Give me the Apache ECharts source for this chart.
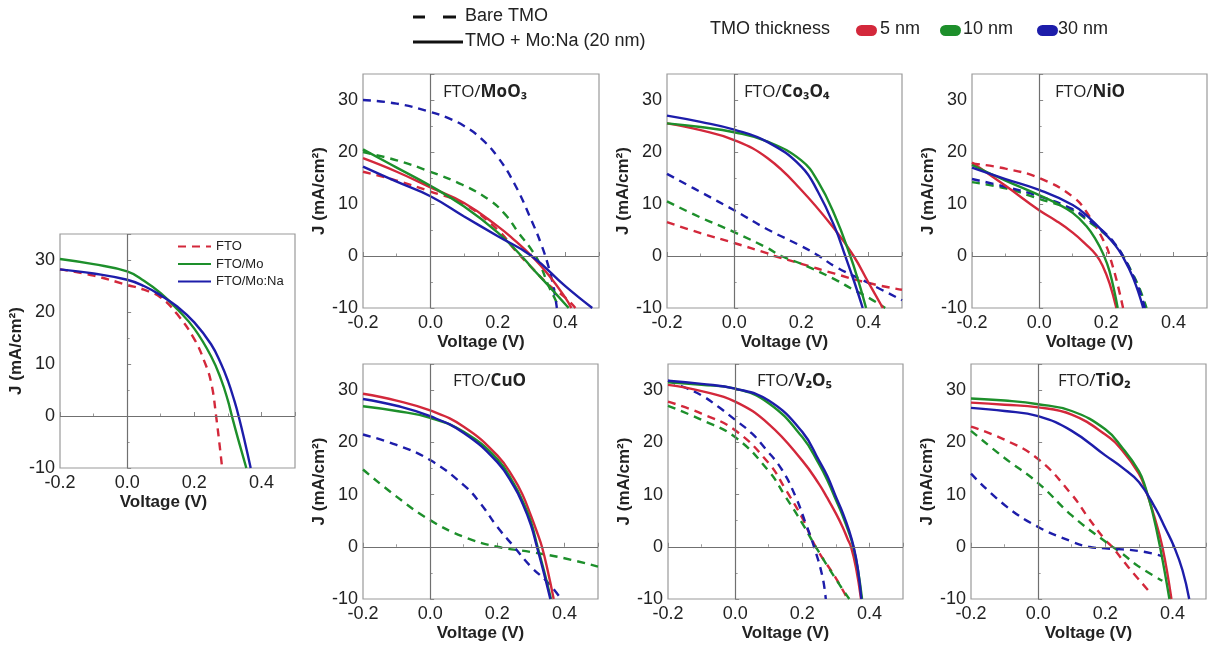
<!DOCTYPE html>
<html><head><meta charset="utf-8">
<script src="https://cdn.jsdelivr.net/npm/echarts@6/dist/echarts.min.js"></script>
<style>html,body{margin:0;padding:0;background:#fff}#c{width:1208px;height:648px}</style>
</head><body><div id="c"></div>
<script>
// ---------------- DATA (Voltage V, J mA/cm2) ----------------
// Reference panel
const ref_FTO     = [[-0.2,28.2],[-0.1,27],[0,25.2],[0.05,24.3],[0.1,22.8],[0.15,19.5],[0.2,14.8],[0.23,10.5],[0.25,6.5],[0.265,0],[0.283,-10]];
const ref_FTO_Mo  = [[-0.2,30.2],[-0.1,29.2],[0,27.8],[0.05,26],[0.1,23.6],[0.15,20.5],[0.2,16.8],[0.25,11.5],[0.28,7],[0.3,3],[0.312,0],[0.33,-4.3],[0.355,-10]];
const ref_FTO_MoNa= [[-0.2,28.2],[-0.1,27.4],[0,26.2],[0.05,25],[0.1,23.2],[0.15,21],[0.2,18],[0.25,13.8],[0.28,10],[0.3,6.8],[0.32,2.8],[0.332,0],[0.35,-4.8],[0.368,-10]];

// FTO/MoO3
const moo3_bare_5  = [[-0.2,16.2],[-0.1,14.5],[0,12.4],[0.1,10],[0.2,5],[0.253,1],[0.3,-2.2],[0.35,-5.5],[0.4,-8],[0.43,-10]];
const moo3_bare_10 = [[-0.2,20],[-0.1,18.4],[0,16.2],[0.095,13.7],[0.174,10.8],[0.223,7.9],[0.262,4.4],[0.302,1],[0.327,-1.9],[0.35,-5.7],[0.372,-8.6],[0.38,-10]];
const moo3_bare_30 = [[-0.2,30],[-0.1,29.3],[0,27.7],[0.05,26.6],[0.1,25],[0.15,22.6],[0.2,19],[0.25,13.8],[0.3,6.8],[0.33,2],[0.35,-2],[0.365,-6],[0.375,-10]];
const moo3_mona_5  = [[-0.2,18.8],[-0.1,16.2],[0,13.2],[0.1,10.2],[0.2,5.7],[0.25,3],[0.3,0],[0.35,-3.6],[0.4,-8],[0.418,-10]];
const moo3_mona_10 = [[-0.2,20.5],[-0.1,17],[0,13.5],[0.1,9.5],[0.2,4.5],[0.27,0],[0.3,-2.2],[0.35,-5.7],[0.41,-10]];
const moo3_mona_30 = [[-0.2,17.2],[-0.1,14.3],[0,11.5],[0.1,7.6],[0.2,3.8],[0.3,0],[0.4,-5.8],[0.48,-10]];

// FTO/Co3O4
const co_bare_5  = [[-0.2,6.5],[-0.1,4.4],[0,2.5],[0.1,0.5],[0.12,0],[0.2,-1.5],[0.3,-3.4],[0.4,-5.2],[0.5,-6.5]];
const co_bare_10 = [[-0.2,10.5],[-0.1,7.4],[0,4.6],[0.1,1.5],[0.14,0],[0.2,-1.5],[0.3,-4.5],[0.35,-6.3],[0.4,-8],[0.45,-10]];
const co_bare_30 = [[-0.2,15.8],[-0.1,12.3],[0,8.8],[0.1,5.1],[0.2,1.9],[0.253,0],[0.3,-2],[0.4,-5.2],[0.5,-8.5]];
const co_mona_5  = [[-0.2,25.5],[-0.1,24.2],[0,22.3],[0.1,18.8],[0.2,12.7],[0.3,5.1],[0.356,0],[0.4,-5.1],[0.443,-10]];
const co_mona_10 = [[-0.2,25.5],[-0.1,24.8],[0,23.8],[0.1,22],[0.2,18.4],[0.25,14.3],[0.3,7.8],[0.346,0],[0.37,-4.8],[0.393,-10]];
const co_mona_30 = [[-0.2,27],[-0.1,25.8],[0,24.3],[0.1,21.9],[0.2,17.2],[0.25,12.3],[0.3,5.5],[0.331,0],[0.358,-5],[0.383,-10]];

// FTO/NiO
const nio_bare_5  = [[-0.2,17.8],[-0.1,16.8],[0,15],[0.1,11.4],[0.15,7.6],[0.2,1.9],[0.21,0],[0.23,-4.5],[0.25,-10]];
const nio_bare_10 = [[-0.2,14.2],[-0.1,13],[0,11],[0.1,8.8],[0.15,6.5],[0.2,4],[0.225,2.3],[0.25,0],[0.28,-3.6],[0.3,-6.4],[0.32,-10]];
const nio_bare_30 = [[-0.2,14.8],[-0.1,13.3],[0,11.5],[0.1,9],[0.15,6.8],[0.2,4.2],[0.225,2.4],[0.25,0],[0.28,-3.8],[0.3,-6.8],[0.315,-10]];
const nio_mona_5  = [[-0.2,18],[-0.1,13.5],[0,8.8],[0.05,6.8],[0.1,4.5],[0.14,2.2],[0.17,0.2],[0.19,-2],[0.21,-5.3],[0.23,-10]];
const nio_mona_10 = [[-0.2,17.5],[-0.1,14.5],[0,11.7],[0.05,10.2],[0.1,8.3],[0.14,5.8],[0.17,3],[0.19,0.5],[0.21,-3],[0.234,-10]];
const nio_mona_30 = [[-0.2,17],[-0.1,14.8],[0,12.7],[0.1,9.8],[0.15,7.3],[0.2,4],[0.225,2.2],[0.248,0],[0.28,-4.2],[0.31,-10]];

// FTO/CuO
const cuo_bare_10 = [[-0.2,14.8],[-0.1,9.6],[0,5.1],[0.1,1.9],[0.2,0],[0.3,-1],[0.4,-2.2],[0.5,-3.8]];
const cuo_bare_30 = [[-0.2,21.5],[-0.1,19.5],[0,16.6],[0.1,11.8],[0.15,8.3],[0.2,3.8],[0.25,0],[0.3,-3.8],[0.35,-6.8],[0.39,-10]];
const cuo_mona_5  = [[-0.2,29.3],[-0.1,28],[0,26.1],[0.1,23],[0.2,17.5],[0.25,13],[0.275,10],[0.3,6],[0.32,2.5],[0.333,0],[0.35,-4.5],[0.368,-10]];
const cuo_mona_10 = [[-0.2,26.9],[-0.1,26],[0,24.7],[0.1,22],[0.2,16.8],[0.25,12],[0.275,8.8],[0.3,4.8],[0.32,0],[0.34,-4.8],[0.36,-10]];
const cuo_mona_30 = [[-0.2,28.3],[-0.1,27],[0,25],[0.1,21.8],[0.2,16.2],[0.25,11.5],[0.275,8.3],[0.3,4.2],[0.318,0],[0.338,-4.8],[0.358,-10]];

// FTO/V2O5
const v_bare_5  = [[-0.2,27.8],[-0.1,25.5],[0,22.3],[0.1,16],[0.15,11],[0.2,5.5],[0.24,0],[0.3,-6],[0.335,-10]];
const v_bare_10 = [[-0.2,27],[-0.1,24.3],[0,21],[0.1,14.5],[0.15,9.6],[0.2,4.5],[0.24,0],[0.3,-6.2],[0.34,-10]];
const v_bare_30 = [[-0.2,31.8],[-0.15,30.5],[-0.1,29],[-0.05,26.8],[0,24.3],[0.05,21.7],[0.09,18.8],[0.14,14.7],[0.18,9.6],[0.21,4.5],[0.235,0],[0.26,-5.7],[0.27,-10]];
const v_mona_5  = [[-0.2,31],[-0.1,29.8],[0,27.8],[0.1,23.5],[0.2,16.5],[0.25,12],[0.275,9.3],[0.3,6.4],[0.32,3.8],[0.335,1.5],[0.345,0],[0.36,-4],[0.375,-10]];
const v_mona_10 = [[-0.2,31.5],[-0.1,31],[0,30.3],[0.1,27.5],[0.2,21],[0.25,15.8],[0.275,12.7],[0.3,9],[0.32,6],[0.34,2.5],[0.352,0],[0.366,-4.5],[0.378,-10]];
const v_mona_30 = [[-0.2,31.8],[-0.1,31.2],[0,30.3],[0.1,28],[0.2,22],[0.25,16.5],[0.275,13.5],[0.3,9.6],[0.32,6.6],[0.34,3],[0.353,0],[0.365,-4],[0.376,-10]];

// FTO/TiO2
const ti_bare_5  = [[-0.2,23],[-0.1,20.5],[0,16.8],[0.1,10],[0.15,5.5],[0.2,1.3],[0.22,0],[0.27,-4],[0.33,-8.5]];
const ti_bare_10 = [[-0.2,22.2],[-0.1,17],[0,12.2],[0.1,6],[0.2,1],[0.25,-1.3],[0.3,-3.8],[0.37,-6.5]];
const ti_bare_30 = [[-0.2,14],[-0.1,8],[0,3.8],[0.1,1],[0.15,0],[0.2,-0.3],[0.3,-0.8],[0.37,-1.8]];
const ti_mona_5  = [[-0.2,27.6],[-0.1,27.2],[0,26.7],[0.1,25.3],[0.2,21.5],[0.25,18.5],[0.3,14],[0.32,11],[0.345,6],[0.37,0],[0.397,-10]];
const ti_mona_10 = [[-0.2,28.4],[-0.1,28],[0,27.3],[0.1,26],[0.2,22.5],[0.25,19],[0.3,14.5],[0.32,11.3],[0.34,6.8],[0.363,0],[0.391,-10]];
const ti_mona_30 = [[-0.2,26.6],[-0.1,26],[0,25],[0.1,22.2],[0.2,17.5],[0.25,15.2],[0.3,12.4],[0.35,7.3],[0.38,3.4],[0.405,0],[0.43,-4.5],[0.45,-10]];

// Axis ranges / labels
const xRange = [-0.2, 0.5], xStep = 0.2;
const yRange = [-10, 35], yStep = 10;
const yName = 'J (mA/cm²)', xName = 'Voltage (V)';
const topLegendLines = ['Bare TMO', 'TMO + Mo:Na (20 nm)'];
const thicknessTitle = 'TMO thickness';
const thicknessLabels = ['5 nm', '10 nm', '30 nm'];
const refNames = ['FTO', 'FTO/Mo', 'FTO/Mo:Na'];

// ---------------- STYLE / LAYOUT ----------------
const RED = '#d3283b', GREEN = '#1d8f2b', BLUE = '#1d1daa';
const tc = [RED, GREEN, BLUE];
const panels = [
  {box:[60,234,235,234], title:null,
   curves:[[refNames[0], ref_FTO, RED, true],[refNames[1], ref_FTO_Mo, GREEN, false],[refNames[2], ref_FTO_MoNa, BLUE, false]]},
  {box:[363,74,236,234], title:['FTO/','MoO₃'], tpos:[438,79],
   curves:[['b5',moo3_bare_5,RED,true],['b10',moo3_bare_10,GREEN,true],['b30',moo3_bare_30,BLUE,true],['m5',moo3_mona_5,RED,false],['m10',moo3_mona_10,GREEN,false],['m30',moo3_mona_30,BLUE,false]]},
  {box:[667,74,235,234], title:['FTO/','Co₃O₄'], tpos:[739,79],
   curves:[['b5',co_bare_5,RED,true],['b10',co_bare_10,GREEN,true],['b30',co_bare_30,BLUE,true],['m5',co_mona_5,RED,false],['m10',co_mona_10,GREEN,false],['m30',co_mona_30,BLUE,false]]},
  {box:[972,74,235,234], title:['FTO/','NiO'], tpos:[1050,79],
   curves:[['b5',nio_bare_5,RED,true],['b10',nio_bare_10,GREEN,true],['b30',nio_bare_30,BLUE,true],['m5',nio_mona_5,RED,false],['m10',nio_mona_10,GREEN,false],['m30',nio_mona_30,BLUE,false]]},
  {box:[363,364,235,235], title:['FTO/','CuO'], tpos:[448,368],
   curves:[['b10',cuo_bare_10,GREEN,true],['b30',cuo_bare_30,BLUE,true],['m5',cuo_mona_5,RED,false],['m10',cuo_mona_10,GREEN,false],['m30',cuo_mona_30,BLUE,false]]},
  {box:[668,364,235,235], title:['FTO/','V₂O₅'], tpos:[752,368],
   curves:[['b5',v_bare_5,RED,true],['b10',v_bare_10,GREEN,true],['b30',v_bare_30,BLUE,true],['m5',v_mona_5,RED,false],['m10',v_mona_10,GREEN,false],['m30',v_mona_30,BLUE,false]]},
  {box:[971,364,235,235], title:['FTO/','TiO₂'], tpos:[1053,368],
   curves:[['b5',ti_bare_5,RED,true],['b10',ti_bare_10,GREEN,true],['b30',ti_bare_30,BLUE,true],['m5',ti_mona_5,RED,false],['m10',ti_mona_10,GREEN,false],['m30',ti_mona_30,BLUE,false]]}
];

const FONT = 'Liberation Sans';
const grids = [], xAxes = [], yAxes = [], series = [], titles = [];
panels.forEach((p, i) => {
  grids.push({left:p.box[0], top:p.box[1], width:p.box[2], height:p.box[3], show:true,
    borderColor:'#9a9a9a', borderWidth:1.2, backgroundColor:'transparent'});
  xAxes.push({type:'value', gridIndex:i, min:xRange[0], max:xRange[1], interval:xStep,
    name:xName, nameLocation:'middle', nameGap:26,
    nameTextStyle:{fontFamily:FONT, fontWeight:'bold', fontSize:17, color:'#222', padding: i===0?[0,28,0,0]:0},
    axisLine:{show:false}, splitLine:{show:false},
    axisTick:{show:true, inside:true, length:4, lineStyle:{color:'#888'}},
    minorTick:{show:true, splitNumber:2, length:2.5, lineStyle:{color:'#999'}},
    axisLabel:{fontFamily:FONT, fontSize:18, color:'#222', margin:6, showMaxLabel:false,
      formatter:v => v.toFixed(1)}});
  yAxes.push({type:'value', gridIndex:i, min:yRange[0], max:yRange[1], interval:yStep,
    name:yName, nameLocation:'middle', nameGap:28, nameRotate:90,
    nameTextStyle:{fontFamily:FONT, fontWeight:'bold', fontSize:17, color:'#222'},
    axisLine:{show:false}, splitLine:{show:false},
    axisTick:{show:true, inside:true, length:4, lineStyle:{color:'#888'}},
    minorTick:{show:true, splitNumber:2, length:2.5, lineStyle:{color:'#999'}},
    axisLabel:{fontFamily:FONT, fontSize:18, color:'#222', margin:5, showMaxLabel:false}});
  p.curves.forEach((c, k) => {
    const s = {type:'line', name:c[0], xAxisIndex:i, yAxisIndex:i, data:c[1],
      symbol:'none', showSymbol:false, smooth:0.45, clip:true,
      z: c[3] ? 2 : 3,
      lineStyle:{color:c[2], width:2.4, type:c[3] ? [8,6] : 'solid'},
      itemStyle:{color:c[2]}};
    if (k === 0) {
      s.markLine = {silent:true, symbol:'none', label:{show:false}, animation:false,
        lineStyle:{color:'#707070', width:1.2, type:'solid'},
        data:[{xAxis:0},{yAxis:0}]};
    }
    series.push(s);
  });
  if (p.title) {
    titles.push({left:p.tpos[0], top:p.tpos[1], text:'{a|'+p.title[0]+'}{b|'+p.title[1]+'}',
      textStyle:{fontWeight:'normal', rich:{a:{fontFamily:'Open Sans', fontSize:17, fontWeight:'normal', color:'#222'},
                       b:{fontFamily:'Open Sans', fontSize:17, fontWeight:'bold', color:'#222'}}}});
  }
});

// top legend graphics
const g = [];
g.push({type:'line', shape:{x1:413,y1:17,x2:425,y2:17}, style:{stroke:'#111', lineWidth:3}});
g.push({type:'line', shape:{x1:443,y1:17,x2:456,y2:17}, style:{stroke:'#111', lineWidth:3}});
g.push({type:'text', left:465, top:7, style:{text:topLegendLines[0], font:'18px "Liberation Sans"', fill:'#222'}});
g.push({type:'line', shape:{x1:413,y1:42,x2:463,y2:42}, style:{stroke:'#111', lineWidth:3}});
g.push({type:'text', left:465, top:32, style:{text:topLegendLines[1], font:'18px "Liberation Sans"', fill:'#222'}});
g.push({type:'text', left:710, top:20, style:{text:thicknessTitle, font:'18px "Liberation Sans"', fill:'#222'}});
const pillX = [856, 940, 1037], textX = [880, 963, 1058];
thicknessLabels.forEach((t, k) => {
  g.push({type:'rect', shape:{x:pillX[k], y:25, width:21, height:11, r:5.5}, style:{fill:tc[k]}});
  g.push({type:'text', left:textX[k], top:20, style:{text:t, font:'18px "Liberation Sans"', fill:'#222'}});
});

const chart = echarts.init(document.getElementById('c'), null, {renderer:'canvas'});
chart.setOption({
  animation:false,
  backgroundColor:'#fff',
  title:titles,
  grid:grids, xAxis:xAxes, yAxis:yAxes, series:series,
  legend:{data:refNames, orient:'vertical', left:177, top:240, itemWidth:33, itemHeight:12, itemGap:4.5,
    itemStyle:{opacity:0},
    textStyle:{fontFamily:FONT, fontSize:13, color:'#222'}, padding:0},
  graphic:g
});
</script></body></html>
